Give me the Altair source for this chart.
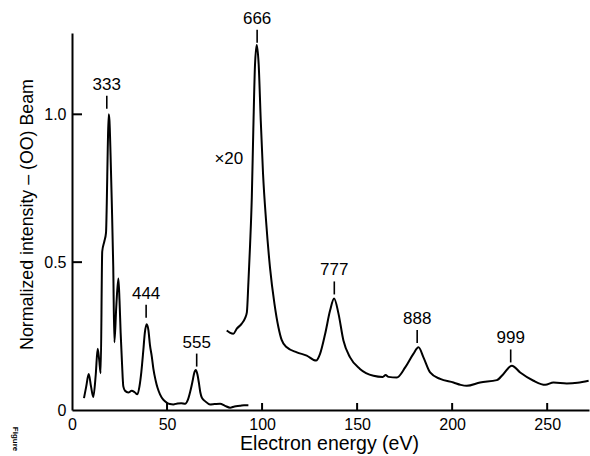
import altair as alt
import pandas as pd

# ---- data ----
low_energy = [6.3, 7.5, 8.8, 10.0, 11.2, 12.5, 13.5, 14.3, 15.1, 15.9, 17.0, 17.9, 18.3, 18.8,
              19.3, 19.7, 20.3, 20.9, 21.7, 22.3, 23.3, 24.4, 25.0, 25.6, 26.3, 27.0, 27.9,
              29.6, 31.4, 33.0, 34.4, 35.5, 36.5, 37.5, 38.3, 39.3, 40.2, 41.0, 42.0, 42.8,
              44.0, 45.0, 46.3, 48.0, 49.8, 51.5, 53.3, 55.5, 57.5, 59.5, 61.0, 62.5, 63.5,
              64.3, 65.1, 66.0, 66.8, 67.5, 68.3, 70.0, 72.6, 75.0, 77.9, 80.5, 83.2, 85.5,
              88.4, 90.5, 92.8]
low_intensity = [0.04, 0.08, 0.122, 0.08, 0.044, 0.12, 0.207, 0.17, 0.124, 0.536, 0.57, 0.60,
                 0.70, 0.88, 1.0, 0.98, 0.86, 0.71, 0.485, 0.229, 0.35, 0.445, 0.37, 0.26,
                 0.16, 0.08, 0.065, 0.059, 0.065, 0.06, 0.053, 0.08, 0.13, 0.2, 0.26, 0.29,
                 0.27, 0.22, 0.18, 0.14, 0.1, 0.075, 0.053, 0.035, 0.025, 0.02, 0.019, 0.022,
                 0.023, 0.021, 0.035, 0.07, 0.1, 0.125, 0.135, 0.12, 0.09, 0.06, 0.042, 0.03,
                 0.019, 0.02, 0.021, 0.014, 0.008, 0.012, 0.014, 0.016, 0.016]

x20_energy = [81.4, 83.0, 84.9, 86.7, 89.3, 91.0, 92.0, 92.8, 93.7, 94.6, 95.4, 96.3, 97.2,
              98.2, 99.3, 100.5, 102.1, 104.2, 106.5, 108.6, 110.3, 113.0, 118.3, 123.5,
              128.4, 130.5, 133.2, 135.8, 137.9, 140.2, 142.8, 146.3, 151.5, 158.6, 163.5,
              165.0, 166.5, 170.9, 175.3, 179.6, 182.3, 184.9, 188.4, 193.7, 200.7, 204.5,
              207.7, 214.7, 223.5, 227.0, 231.4, 235.8, 242.8, 249.0, 253.3, 260.3, 266.0,
              271.8]
x20_intensity = [0.269, 0.262, 0.258, 0.275, 0.292, 0.31, 0.33, 0.43, 0.56, 0.72, 0.95, 1.17,
                 1.234, 1.17, 0.98, 0.80, 0.64, 0.48, 0.36, 0.28, 0.237, 0.212, 0.195, 0.184,
                 0.167, 0.19, 0.258, 0.337, 0.377, 0.326, 0.235, 0.178, 0.139, 0.116, 0.112,
                 0.118, 0.112, 0.110, 0.144, 0.19, 0.212, 0.178, 0.127, 0.105, 0.093, 0.085,
                 0.082, 0.093, 0.101, 0.122, 0.15, 0.127, 0.099, 0.085, 0.093, 0.090, 0.092,
                 0.099]

peak_labels = ["333", "444", "555", "666", "777", "888", "999"]
peak_energy = [18.3, 39.0, 65.6, 97.4, 138.0, 181.6, 230.8]
peak_label_y = [1.100, 0.393, 0.228, 1.323, 0.472, 0.308, 0.242]

scale_note = ["×20"]
scale_note_energy = [82.5]
scale_note_y = [0.85]

x_tick_values = [50, 100, 150, 200, 250]
y_tick_values = [0.5, 1.0]

FONT = "Liberation Sans"
W, H = 517, 377

curves = pd.concat([
    pd.DataFrame({"energy": low_energy, "intensity": low_intensity, "series": "direct"}),
    pd.DataFrame({"energy": x20_energy, "intensity": x20_intensity, "series": "x20"}),
])
peaks = pd.DataFrame({"label": peak_labels, "energy": peak_energy, "y": peak_label_y})
note = pd.DataFrame({"label": scale_note, "energy": scale_note_energy, "y": scale_note_y})
xt = pd.DataFrame({"v": x_tick_values})
yt = pd.DataFrame({"v": y_tick_values})

xscale = alt.Scale(domain=[0, 272], nice=False, zero=False)
yscale = alt.Scale(domain=[0, 1.275], nice=False, zero=False)

xaxis = alt.Axis(values=[0, 50, 100, 150, 200, 250], ticks=False, grid=False,
                 domainColor="black", domainWidth=2, labelFont=FONT, labelFontSize=16,
                 labelColor="black", labelPadding=6, labelFlush=False,
                 title="Electron energy (eV)", titleFont=FONT, titleFontSize=19.5,
                 titleFontWeight="normal", titleColor="black",
                 titleX=257, titleY=39, titleAlign="center", titleBaseline="alphabetic")
yaxis = alt.Axis(values=[0, 0.5, 1.0], ticks=False, grid=False,
                 domainColor="black", domainWidth=2, labelFont=FONT, labelFontSize=16,
                 labelColor="black", labelPadding=6, labelFlush=False,
                 labelExpr="datum.value == 0 ? '0' : format(datum.value, '.1f')",
                 title="Normalized intensity – (OO) Beam", titleFont=FONT, titleFontSize=17.8,
                 titleFontWeight="normal", titleColor="black",
                 titleX=-45, titleY=181, titleAngle=270, titleAlign="center",
                 titleBaseline="middle")

lines = alt.Chart(curves).mark_line(color="black", strokeWidth=2, interpolate="monotone").encode(
    x=alt.X("energy:Q", scale=xscale, axis=xaxis),
    y=alt.Y("intensity:Q", scale=yscale, axis=yaxis),
    detail="series:N",
)

x_ticks = alt.Chart(xt).mark_rule(color="black", strokeWidth=2).encode(
    x=alt.X("v:Q", scale=xscale), y=alt.value(H), y2=alt.value(H - 7))
y_ticks = alt.Chart(yt).mark_rule(color="black", strokeWidth=2).encode(
    y=alt.Y("v:Q", scale=yscale), x=alt.value(0), x2=alt.value(10))

peak_text = alt.Chart(peaks).mark_text(font=FONT, fontSize=17, color="black",
                                       baseline="middle", align="center").encode(
    x=alt.X("energy:Q", scale=xscale), y=alt.Y("y:Q", scale=yscale), text="label:N")
peak_marks = alt.Chart(peaks).mark_rule(color="black", strokeWidth=1.6,
                                        yOffset=11, y2Offset=24).encode(
    x=alt.X("energy:Q", scale=xscale), y=alt.Y("y:Q", scale=yscale), y2="y:Q")

note_text = alt.Chart(note).mark_text(font=FONT, fontSize=17, color="black",
                                      baseline="middle", align="center").encode(
    x=alt.X("energy:Q", scale=xscale), y=alt.Y("y:Q", scale=yscale), text="label:N")

fig_text = alt.Chart(pd.DataFrame({"t": ["Figure"]})).mark_text(
    font=FONT, fontSize=8, fontWeight="bold", color="black", angle=90,
    align="center", baseline="middle").encode(
    text="t:N", x=alt.value(-57), y=alt.value(406))

chart = alt.layer(lines, x_ticks, y_ticks, peak_marks, peak_text, note_text, fig_text).properties(
    width=W, height=H,
    autosize=alt.AutoSizeParams(type="none"),
    padding={"left": 72, "top": 33, "right": 1, "bottom": 46},
    background="white",
).configure_view(stroke=None)

chart.save("out.html", embed_options={"renderer": "svg", "actions": False})
